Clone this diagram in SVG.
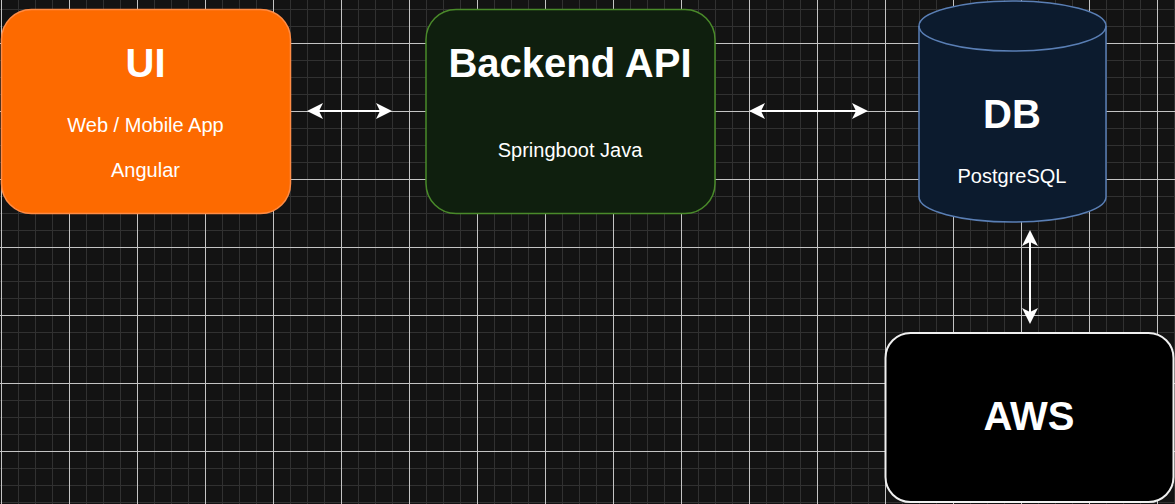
<svg xmlns="http://www.w3.org/2000/svg" width="1175" height="504" viewBox="0 0 1175 504">
  <style>
    .title { font-family: "Liberation Sans", Arial, sans-serif; font-weight: bold; font-size: 40px; fill: #ffffff; text-anchor: middle; }
    .sub { font-family: "Liberation Sans", Arial, sans-serif; font-size: 20px; fill: #ffffff; text-anchor: middle; }
    .conn { stroke: #ffffff; stroke-width: 2; fill: none; }
  </style>
  <defs>
    <pattern id="grid" patternUnits="userSpaceOnUse" x="1" y="43" width="68" height="68">
      <rect width="68" height="68" fill="#131313"/>
      <path d="M17.5,0V68M34.5,0V68M51.5,0V68M0,17.5H68M0,34.5H68M0,51.5H68" stroke="#313131" stroke-width="1"/>
      <path d="M0.5,0V68M0,0.5H68" stroke="#c4c4c4" stroke-width="1"/>
    </pattern>
    <marker id="arrow" viewBox="-5 -9 18 18" refX="0" refY="0" markerWidth="18" markerHeight="18" markerUnits="userSpaceOnUse" orient="auto-start-reverse">
      <path d="M12,0 L-4,-8 L0,0 L-4,8 Z" fill="#ffffff"/>
    </marker>
  </defs>

  <rect width="1175" height="504" fill="url(#grid)"/>

  <g id="connectors">
    <line class="conn" x1="319" y1="111" x2="380" y2="111" marker-start="url(#arrow)" marker-end="url(#arrow)"/>
    <line class="conn" x1="761" y1="111" x2="856" y2="111" marker-start="url(#arrow)" marker-end="url(#arrow)"/>
    <line class="conn" x1="1030" y1="242" x2="1030" y2="312" marker-start="url(#arrow)" marker-end="url(#arrow)"/>
  </g>

  <g id="ui">
    <rect x="1.5" y="9.5" width="289" height="204" rx="30" ry="30" fill="#fd6a00" stroke="#ff8c45" stroke-width="1.5"/>
    <text class="title" x="145.5" y="77">UI</text>
    <text class="sub" x="145.5" y="132">Web / Mobile App</text>
    <text class="sub" x="145.5" y="177">Angular</text>
  </g>

  <g id="backend">
    <rect x="426" y="9.5" width="289" height="204" rx="30" ry="30" fill="#0f1f0e" stroke="#4a8a2a" stroke-width="1.5"/>
    <text class="title" x="570" y="77">Backend API</text>
    <text class="sub" x="570" y="157">Springboot Java</text>
  </g>

  <g id="db">
    <path d="M919,26 A93.5,25 0 0 1 1106,26 L1106,197 A93.5,25 0 0 1 919,197 Z" fill="#0c1b2e" stroke="#5a7fb5" stroke-width="1.5"/>
    <path d="M919,26 A93.5,25 0 0 0 1106,26" fill="none" stroke="#5a7fb5" stroke-width="1.5"/>
    <text class="title" x="1012" y="128">DB</text>
    <text class="sub" x="1012" y="183">PostgreSQL</text>
  </g>

  <g id="aws">
    <rect x="885.5" y="333" width="288" height="169" rx="25" ry="25" fill="#000000" stroke="#f0f0f0" stroke-width="2"/>
    <text class="title" x="1029" y="430">AWS</text>
  </g>
</svg>
